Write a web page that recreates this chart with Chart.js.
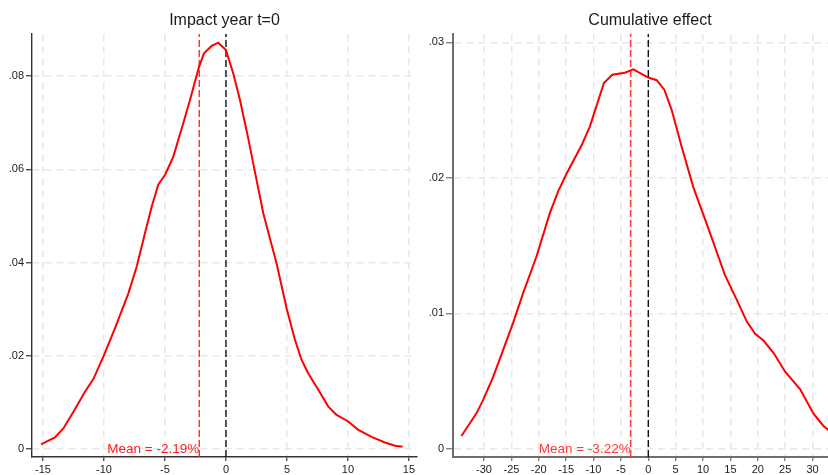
<!DOCTYPE html>
<html><head><meta charset="utf-8">
<script src="https://cdn.jsdelivr.net/npm/chart.js@4/dist/chart.umd.min.js"></script>
<style>
html,body{margin:0;padding:0;background:#fff;width:828px;height:475px;overflow:hidden;position:relative}
canvas{position:absolute;top:0}
#c1{left:0}
#c2{left:420px}
</style></head><body>
<canvas id="c1" width="420" height="475"></canvas>
<canvas id="c2" width="430" height="475"></canvas>
<script>
// ---- data ----
const leftTitle = 'Impact year t=0';
const leftMean = -2.19;
const leftMeanLabel = 'Mean = -2.19%';
const leftX = [-15.16,-14.02,-13.33,-12.5,-11.56,-10.87,-10.05,-9.1,-8.0,-7.32,-6.64,-6.09,-5.55,-5.0,-4.32,-3.5,-2.95,-2.21,-1.8,-1.17,-0.63,0,0.6,1.15,1.83,2.51,3.06,3.6,4.15,4.97,5.66,6.2,6.75,7.57,8.39,9.07,10.02,10.85,11.94,13.03,13.85,14.48];
const leftY = [0.001,0.0025,0.0044,0.008,0.0123,0.015,0.0198,0.0259,0.0334,0.0391,0.0463,0.052,0.0567,0.0588,0.0627,0.0699,0.0749,0.082,0.0849,0.0865,0.0872,0.0856,0.0806,0.0749,0.0666,0.0577,0.0506,0.0452,0.0398,0.0302,0.0234,0.0191,0.0162,0.0127,0.0091,0.0073,0.0059,0.0041,0.0026,0.0014,0.0007,0.0005];
const leftXTicks = [-15,-10,-5,0,5,10,15];
const leftYTicks = [0,0.02,0.04,0.06,0.08];

const rightTitle = 'Cumulative effect';
const rightMean = -3.22;
const rightMeanLabel = 'Mean = -3.22%';
const rightX = [-34.13,-31.39,-30.18,-28.35,-26.52,-24.69,-22.86,-20.42,-17.98,-16.46,-14.93,-12.18,-10.66,-8.1,-6.58,-4.26,-2.74,0,1.53,2.93,4.28,6.1,8.24,10.68,14.03,16.17,18.0,19.52,21.04,22.87,25.0,27.75,30.18,32.0,33.2];
const rightY = [0.00096,0.00263,0.0036,0.0053,0.0073,0.0093,0.0115,0.0142,0.0174,0.019,0.0203,0.0224,0.0238,0.027,0.0276,0.02775,0.028,0.0274,0.0272,0.0265,0.025,0.0223,0.0193,0.0166,0.0128,0.011,0.0094,0.0085,0.008,0.0071,0.0057,0.0044,0.0026,0.0017,0.0013];
const rightXTicks = [-30,-25,-20,-15,-10,-5,0,5,10,15,20,25,30,35];
const rightYTicks = [0,0.01,0.02,0.03];

// ---- drawing ----
const FONT = '"Liberation Sans", Arial, Helvetica, sans-serif';
Chart.defaults.font.family = FONT;

const annot = {
  id: 'annot',
  afterDatasetsDraw(chart, args, o) {
    const {ctx, chartArea: a, scales: {x, y}} = chart;
    ctx.save();
    ctx.font = '16px ' + FONT;
    ctx.fillStyle = '#1a1a1a';
    ctx.textAlign = 'center';
    ctx.textBaseline = 'middle';
    ctx.fillText(o.title, (a.left + a.right) / 2, 21);
    ctx.font = '13.5px ' + FONT;
    ctx.fillStyle = o.meanColor;
    ctx.textAlign = 'right';
    ctx.fillText(o.label, x.getPixelForValue(o.mean), y.getPixelForValue(0));
    ctx.restore();
  }
};

function yFmt(v) {
  if (Math.abs(v) < 1e-9) return '0';
  return v.toFixed(2).replace(/^0\./, '.');
}

function makeChart(id, c) {
  return new Chart(document.getElementById(id), {
    type: 'scatter',
    data: { datasets: [
      { data: c.xs.map((v, i) => ({x: v, y: c.ys[i]})), showLine: true, borderColor: '#ff0000', borderWidth: 2, pointRadius: 0, tension: 0, order: 0 },
      { data: [{x: c.mean, y: c.yMin}, {x: c.mean, y: c.yMax}], showLine: true, borderColor: c.meanColor, borderWidth: c.meanWidth, borderDash: [7, 3], pointRadius: 0, order: 1 },
      { data: [{x: 0, y: c.yMin}, {x: 0, y: c.yMax}], showLine: true, borderColor: '#000000', borderWidth: 1.3, borderDash: [7, 3], pointRadius: 0, order: 2 }
    ]},
    options: {
      responsive: false, animation: false, devicePixelRatio: 1,
      layout: { padding: { top: 34, right: c.padRight, left: 0, bottom: 0 } },
      plugins: {
        legend: { display: false }, tooltip: { enabled: false },
        annot: { title: c.title, label: c.label, mean: c.mean, meanColor: c.meanColor }
      },
      scales: {
        x: {
          type: 'linear', min: c.xMin, max: c.xMax,
          afterBuildTicks: s => { s.ticks = c.xTicks.map(v => ({value: v})); },
          afterFit: s => { s.height = 18; },
          grid: { color: '#e8e8e8', lineWidth: 1.5, tickLength: 4, tickColor: c.axisColor, tickWidth: 1.2 },
          border: { color: c.axisColor, width: c.axisWidth, dash: [7, 5] },
          ticks: { padding: 2, font: { size: 11 }, color: '#222', maxRotation: 0, autoSkip: false, callback: v => String(v) }
        },
        y: {
          type: 'linear', min: c.yMin, max: c.yMax,
          afterBuildTicks: s => { s.ticks = c.yTicks.map(v => ({value: v})); },
          afterFit: s => { s.width = c.yWidth; },
          grid: { color: '#e8e8e8', lineWidth: 1.5, tickLength: c.yTickLen, tickColor: c.axisColor, tickWidth: 1.2 },
          border: { color: c.axisColor, width: c.axisWidth, dash: [7, 5] },
          ticks: { padding: 2, font: { size: 11 }, color: '#222', autoSkip: false, callback: v => yFmt(v) }
        }
      }
    },
    plugins: [annot]
  });
}

makeChart('c1', {
  title: leftTitle, label: leftMeanLabel, mean: leftMean, xs: leftX, ys: leftY,
  xTicks: leftXTicks, yTicks: leftYTicks,
  xMin: -15.9, xMax: 15.66, yMin: -0.00172, yMax: 0.08906,
  padRight: 3, yWidth: 32, yTickLen: 6,
  axisColor: '#333333', axisWidth: 1.4, meanColor: '#ff1a1a', meanWidth: 1.3
});
makeChart('c2', {
  title: rightTitle, label: rightMeanLabel, mean: rightMean, xs: rightX, ys: rightY,
  xTicks: rightXTicks, yTicks: rightYTicks,
  xMin: -35.67, xMax: 36.3, yMin: -0.00059, yMax: 0.03061,
  padRight: 3, yWidth: 33, yTickLen: 7,
  axisColor: '#6e6e6e', axisWidth: 2, meanColor: '#ff3b3b', meanWidth: 1.6
});
</script>
</body></html>
